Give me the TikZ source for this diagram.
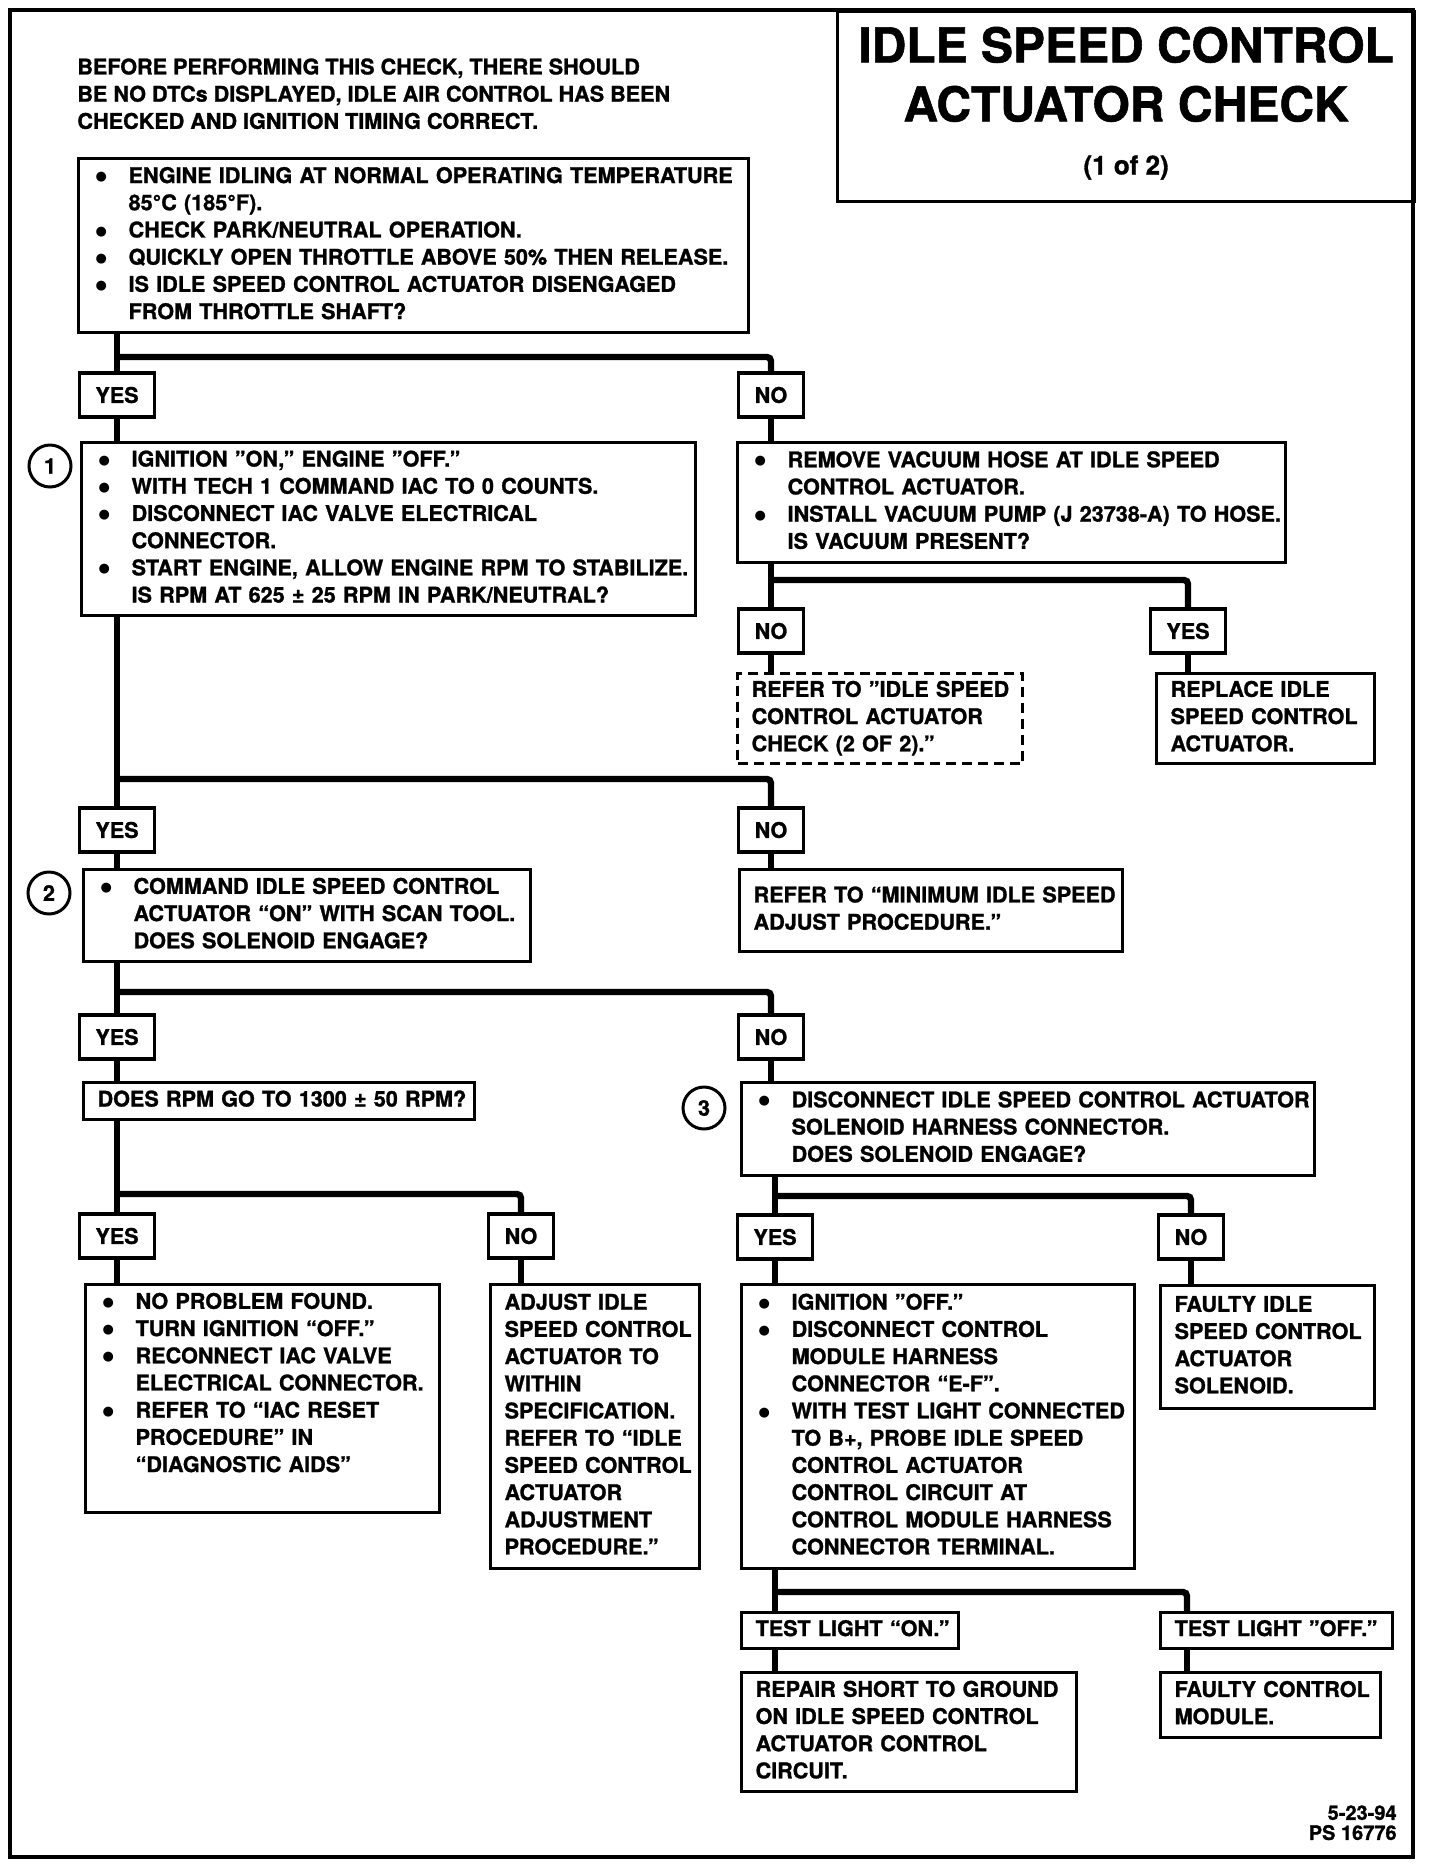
\documentclass[tikz,border=0pt]{standalone}
\usepackage{fontspec}
\setmainfont{TeX Gyre Heros}[BoldFeatures={FakeBold=1.2}]
\newfontfamily\dotfont{DejaVu Sans}
\usetikzlibrary{positioning}

\newcommand{\bodyfont}{\fontsize{10.8}{13.6}\selectfont\bfseries}
\newcommand{\lns}[1]{\noindent\begin{tabular}{@{}l@{}}#1\end{tabular}}
\newcommand{\bul}[1]{\noindent\begin{tabular}{@{}l@{}l@{}}#1\end{tabular}}
\newcommand{\dt}{\makebox[18pt][l]{\hspace*{1.5pt}\raisebox{1.2pt}{\dotfont\fontsize{6.5}{7}\selectfont ●}}}

\tikzset{
  box/.style={draw, line width=1.6pt, anchor=north west, align=left, inner xsep=7pt, inner ysep=0pt, font=\bodyfont},
  tag/.style={draw, line width=1.6pt, fill=white, inner xsep=8pt, inner ysep=0pt, minimum height=22pt, font=\bodyfont},
  link/.style={line width=3.2pt, rounded corners=2pt},
  num/.style={draw, circle, line width=1.5pt, minimum size=21pt, inner sep=0pt, font=\bodyfont},
}

\begin{document}
\begin{tikzpicture}[x=0.5pt, y=-0.5pt]
\useasboundingbox (0,0) rectangle (1440,1864);
\draw[line width=1.8pt] (10,10) rectangle (1413,1857);

% Title and note
\node[draw, line width=1.6pt, anchor=north west, minimum width=288.5pt, minimum height=95pt, inner sep=0pt, font=\bfseries] (title) at (836,10)
  {\fontsize{24}{29.5}\selectfont\begin{tabular}{@{}c@{}}IDLE SPEED CONTROL\\ACTUATOR CHECK\\[-3pt]\fontsize{13}{15}\selectfont (1 of 2)\end{tabular}};
\node[anchor=north west, inner sep=0pt, align=left, font=\bodyfont] (intro) at (77,55)
  {\lns{BEFORE PERFORMING THIS CHECK, THERE SHOULD\\BE NO DTCs DISPLAYED, IDLE AIR CONTROL HAS BEEN\\CHECKED AND IGNITION TIMING CORRECT.}};

% Boxes
\node[box, text width=321pt, minimum height=87pt] (chkA) at (77,157) {\bul{
  \dt & ENGINE IDLING AT NORMAL OPERATING TEMPERATURE\\
      & 85°C (185°F).\\
  \dt & CHECK PARK/NEUTRAL OPERATION.\\
  \dt & QUICKLY OPEN THROTTLE ABOVE 50\% THEN RELEASE.\\
  \dt & IS IDLE SPEED CONTROL ACTUATOR DISENGAGED\\
      & FROM THROTTLE SHAFT?}};

\node[box, text width=293pt, minimum height=86.5pt] (step1) at (80,441) {\bul{
  \dt & IGNITION "ON," ENGINE "OFF."\\
  \dt & WITH TECH 1 COMMAND IAC TO 0 COUNTS.\\
  \dt & DISCONNECT IAC VALVE ELECTRICAL\\
      & CONNECTOR.\\
  \dt & START ENGINE, ALLOW ENGINE RPM TO STABILIZE.\\
      & IS RPM AT 625 ± 25 RPM IN PARK/NEUTRAL?}};

\node[box, text width=260pt, minimum height=60pt] (vac) at (736,441) {\bul{
  \dt & REMOVE VACUUM HOSE AT IDLE SPEED\\
      & CONTROL ACTUATOR.\\
  \dt & INSTALL VACUUM PUMP (J 23738-A) TO HOSE.\\
      & IS VACUUM PRESENT?}};

\node[box, dash pattern=on 5pt off 3pt, text width=128.5pt, minimum height=45pt] (ref2of2) at (736,672)
  {\lns{REFER TO "IDLE SPEED\\CONTROL ACTUATOR\\CHECK (2 OF 2)."}};
\node[box, text width=95pt, minimum height=45pt] (replace) at (1155,672)
  {\lns{REPLACE IDLE\\SPEED CONTROL\\ACTUATOR.}};

\node[box, text width=209.5pt, minimum height=46pt] (step2) at (82,868) {\bul{
  \dt & COMMAND IDLE SPEED CONTROL\\
      & ACTUATOR “ON” WITH SCAN TOOL.\\
      & DOES SOLENOID ENGAGE?}};
\node[box, text width=177.5pt, minimum height=41pt] (minidle) at (738,868)
  {\lns{REFER TO “MINIMUM IDLE SPEED\\ADJUST PROCEDURE.”\\ }};

\node[box, text width=181.5pt, minimum height=18.5pt] (rpm) at (82,1081)
  {\lns{DOES RPM GO TO 1300 ± 50 RPM?}};
\node[box, text width=272.5pt, minimum height=46.5pt] (step3) at (740,1081) {\bul{
  \dt & DISCONNECT IDLE SPEED CONTROL ACTUATOR\\
      & SOLENOID HARNESS CONNECTOR.\\
      & DOES SOLENOID ENGAGE?}};

\node[box, text width=163pt, minimum height=114pt] (npf) at (84,1283) {\bul{
  \dt & NO PROBLEM FOUND.\\
  \dt & TURN IGNITION “OFF.”\\
  \dt & RECONNECT IAC VALVE\\
      & ELECTRICAL CONNECTOR.\\
  \dt & REFER TO “IAC RESET\\
      & PROCEDURE” IN\\
      & “DIAGNOSTIC AIDS”\\
      & }};
\node[box, text width=90.5pt, minimum height=142pt] (adjust) at (489,1283)
  {\lns{ADJUST IDLE\\SPEED CONTROL\\ACTUATOR TO\\WITHIN\\SPECIFICATION.\\REFER TO “IDLE\\SPEED CONTROL\\ACTUATOR\\ADJUSTMENT\\PROCEDURE.”}};

\node[box, text width=182.5pt, minimum height=142pt] (step4) at (740,1283) {\bul{
  \dt & IGNITION "OFF."\\
  \dt & DISCONNECT CONTROL\\
      & MODULE HARNESS\\
      & CONNECTOR “E-F”.\\
  \dt & WITH TEST LIGHT CONNECTED\\
      & TO B+, PROBE IDLE SPEED\\
      & CONTROL ACTUATOR\\
      & CONTROL CIRCUIT AT\\
      & CONTROL MODULE HARNESS\\
      & CONNECTOR TERMINAL.}};
\node[box, text width=93pt, minimum height=61.5pt] (faultisc) at (1159,1284)
  {\lns{FAULTY IDLE\\SPEED CONTROL\\ACTUATOR\\SOLENOID.}};

\node[box, text width=94.5pt, minimum height=18pt] (lighton) at (740,1611) {\lns{TEST LIGHT “ON.”}};
\node[box, text width=102pt, minimum height=18pt] (lightoff) at (1159,1611) {\lns{TEST LIGHT "OFF."}};
\node[box, text width=153.5pt, minimum height=59.5pt] (repair) at (740,1671)
  {\lns{REPAIR SHORT TO GROUND\\ON IDLE SPEED CONTROL\\ACTUATOR CONTROL\\CIRCUIT.}};
\node[box, text width=96pt, minimum height=32.5pt] (faultecm) at (1159,1671)
  {\lns{FAULTY CONTROL\\MODULE.}};

% Step numbers
\node[num] (n1) at (50,466) {1};
\node[num] (n2) at (49,893) {2};
\node[num] (n3) at (704,1108) {3};

% Answer tags
\node[tag] (yes1) at (117,395) {YES};
\node[tag] (no1) at (771,395) {NO};
\node[tag] (no2) at (771,631) {NO};
\node[tag] (yes2) at (1188,631) {YES};
\node[tag] (yes3) at (117,830) {YES};
\node[tag] (no3) at (771,830) {NO};
\node[tag] (yes4) at (117,1037) {YES};
\node[tag] (no4) at (771,1037) {NO};
\node[tag] (yes5) at (117,1236) {YES};
\node[tag] (no5) at (521,1236) {NO};
\node[tag] (yes6) at (775,1237) {YES};
\node[tag] (no6) at (1191,1237) {NO};

\node[anchor=north east, inner sep=0pt, align=right, font=\fontsize{10}{10}\selectfont\bfseries] (stamp) at (1397,1805) {5-23-94\\PS 16776};

% Connectors
\coordinate (jA) at (0,357);
\draw[link] (chkA.south -| yes1) -- (yes1.north);
\draw[link] (yes1 |- jA) -| (no1.north);
\draw[link] (yes1.south) -- (yes1.south |- step1.north);
\draw[link] (no1.south) -- (no1.south |- vac.north);

\coordinate (jV) at (0,580);
\draw[link] (vac.south -| no2) -- (no2.north);
\draw[link] (no2 |- jV) -| (yes2.north);
\draw[link] (no2.south) -- (no2.south |- ref2of2.north);
\draw[link] (yes2.south) -- (yes2.south |- replace.north);

\coordinate (j1) at (0,779);
\draw[link] (step1.south -| yes3) -- (yes3.north);
\draw[link] (yes3 |- j1) -| (no3.north);
\draw[link] (yes3.south) -- (yes3.south |- step2.north);
\draw[link] (no3.south) -- (no3.south |- minidle.north);

\coordinate (j2) at (0,992);
\draw[link] (step2.south -| yes4) -- (yes4.north);
\draw[link] (yes4 |- j2) -| (no4.north);
\draw[link] (yes4.south) -- (yes4.south |- rpm.north);
\draw[link] (no4.south) -- (no4.south |- step3.north);

\coordinate (jR) at (0,1194);
\draw[link] (rpm.south -| yes5) -- (yes5.north);
\draw[link] (yes5 |- jR) -| (no5.north);
\draw[link] (yes5.south) -- (yes5.south |- npf.north);
\draw[link] (no5.south) -- (no5.south |- adjust.north);

\coordinate (j3) at (0,1196);
\draw[link] (step3.south -| yes6) -- (yes6.north);
\draw[link] (yes6 |- j3) -| (no6.north);
\draw[link] (yes6.south) -- (yes6.south |- step4.north);
\draw[link] (no6.south) -- (no6.south |- faultisc.north);

\coordinate (tOn) at (775,1592);
\coordinate (tOff) at (1187,1592);
\draw[link] (step4.south -| tOn) -- (lighton.north -| tOn);
\draw[link] (tOn) -| (lightoff.north -| tOff);
\draw[link] (lighton.south -| tOn) -- (repair.north -| tOn);
\draw[link] (lightoff.south -| tOff) -- (faultecm.north -| tOff);
\end{tikzpicture}
\end{document}
